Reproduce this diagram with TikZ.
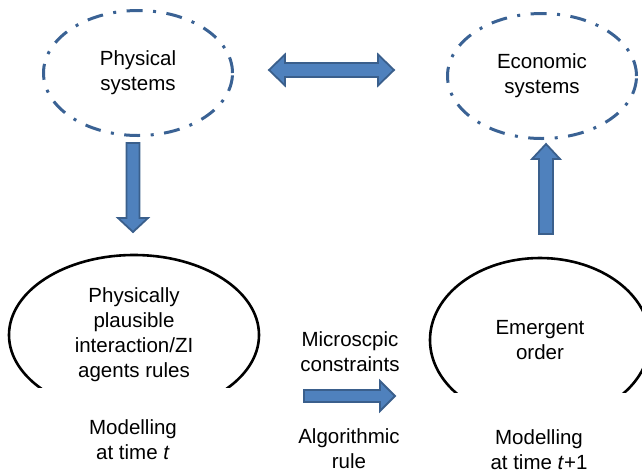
\documentclass[tikz,border=0pt]{standalone}
\usepackage{fontspec}
\setmainfont{Liberation Sans}
\usetikzlibrary{shapes.geometric,calc}
\definecolor{arrfill}{HTML}{4F81BD}
\definecolor{arrline}{HTML}{3A5F8C}
\definecolor{dashblue}{HTML}{3A6294}
\newcommand\fatarrow[5]{%
 \coordinate (hb) at ($(#2)!#5!(#1)$);
 \filldraw[barrow] ($(#1)!#3!90:(#2)$) -- ($(hb)!#3!-90:(#1)$) -- ($(hb)!#4!-90:(#1)$) -- (#2) -- ($(hb)!#4!90:(#1)$) -- ($(hb)!#3!90:(#1)$) -- ($(#1)!#3!-90:(#2)$) -- cycle;}
\newcommand\fatdarrow[5]{%
 \coordinate (hba) at ($(#1)!#5!(#2)$);
 \coordinate (hbb) at ($(#2)!#5!(#1)$);
 \filldraw[barrow] (#1) -- ($(hba)!#4!90:(#2)$) -- ($(hba)!#3!90:(#2)$) -- ($(hbb)!#3!-90:(#1)$) -- ($(hbb)!#4!-90:(#1)$) -- (#2) -- ($(hbb)!#4!90:(#1)$) -- ($(hbb)!#3!90:(#1)$) -- ($(hba)!#3!-90:(#2)$) -- ($(hba)!#4!-90:(#2)$) -- cycle;}
\begin{document}
\begin{tikzpicture}[x=1pt,y=-1pt,
  txt/.style={align=center,inner sep=0pt,font=\fontsize{20.5}{25}\selectfont},
  dashell/.style={ellipse,draw=dashblue,line width=3pt,dash pattern=on 16pt off 10.5pt on 3pt off 10.5pt,inner sep=0pt,minimum width=189pt,minimum height=125pt,txt},
  solidell/.style={ellipse,draw=black,line width=2.6pt,inner sep=0pt,txt},
  barrow/.style={fill=arrfill,draw=arrline,line width=1.8pt,line join=miter}]
\useasboundingbox (0,0) rectangle (642,475);
\node[dashell] (phys) at (138,73) {Physical\\systems};
\node[dashell] (econ) at (542,76) {Economic\\systems};
\begin{scope}
\clip (0,0) rectangle (642,387);
\node[solidell,minimum width=250pt,minimum height=160pt] (rules) at (134,335) {Physically\\plausible\\interaction/ZI\\agents rules};
\end{scope}
\begin{scope}
\clip (0,0) rectangle (642,392);
\node[solidell,minimum width=220pt,minimum height=164pt] (order) at (540,340) {Emergent\\order};
\end{scope}
\node[txt] (modt) at (133,440) {Modelling\\at time \textit{t}};
\node[txt] (modt1) at (539,450) {Modelling\\at time \textit{t}+1};
\node[txt] (micro) at (350,352) {Microscpic\\constraints};
\node[txt] (algo) at (349,449) {Algorithmic\\rule};
\coordinate (dA1) at (133,143);
\coordinate (dA2) at (133,232);
\coordinate (lr1) at (269,70);
\coordinate (lr2) at (394,70);
\coordinate (uA1) at (546,234);
\coordinate (uA2) at (546,144);
\coordinate (mA1) at (304,396);
\coordinate (mA2) at (395,396);
\fatarrow{dA1}{dA2}{6.5pt}{15pt}{14pt}
\fatarrow{uA1}{uA2}{7pt}{14pt}{15pt}
\fatarrow{mA1}{mA2}{6pt}{15pt}{15pt}
\fatdarrow{lr1}{lr2}{7pt}{15.5pt}{16pt}
\end{tikzpicture}
\end{document}
